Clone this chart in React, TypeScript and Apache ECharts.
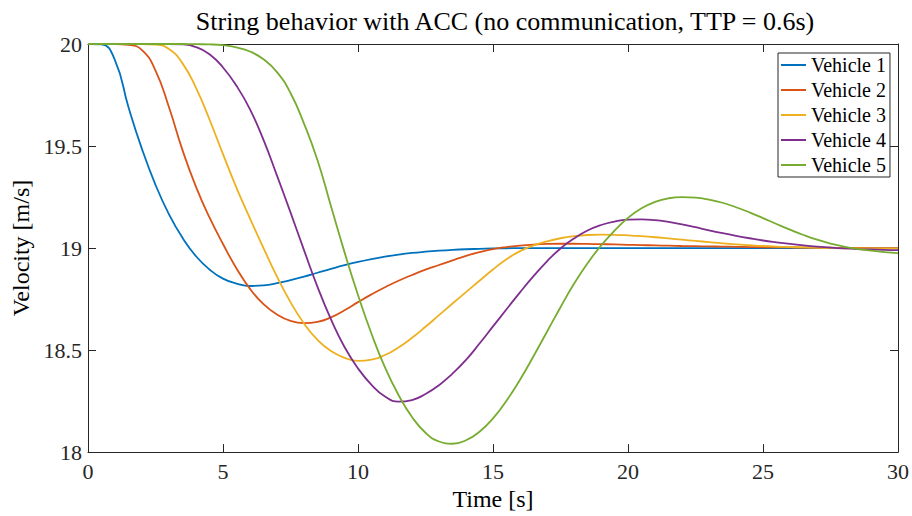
import React, { useEffect, useRef } from "react";
import * as echarts from "echarts";

const times = [
  0, 0.5, 1, 1.5, 2, 2.5, 3, 3.5, 4, 4.5, 5, 5.5, 6, 6.5, 7, 7.5, 8, 8.5, 9, 9.5,
  10, 10.5, 11, 11.5, 12, 12.5, 13, 13.5, 14, 14.5, 15, 15.5, 16, 16.5, 17, 17.5, 18, 18.5, 19, 19.5,
  20, 20.5, 21, 21.5, 22, 22.5, 23, 23.5, 24, 24.5, 25, 25.5, 26, 26.5, 27, 27.5, 28, 28.5, 29, 29.5, 30,
];

const vehicle1 = [
  20, 19.998, 19.92, 19.69, 19.485, 19.31, 19.165, 19.05, 18.96, 18.895, 18.85, 18.826, 18.814, 18.817, 18.828, 18.843, 18.86, 18.879, 18.898, 18.916,
  18.932, 18.946, 18.958, 18.968, 18.976, 18.982, 18.987, 18.991, 18.994, 18.996, 18.998, 18.999, 19, 19, 19, 19, 19, 19, 19, 19,
  19, 19, 19, 19, 19, 19, 19, 19, 19, 19, 19, 19, 19, 19, 19, 19, 19, 19, 19, 19, 19,
];

const vehicle2 = [
  20, 20, 20, 19.996, 19.97, 19.87, 19.69, 19.48, 19.3, 19.15, 19.02, 18.9, 18.8, 18.725, 18.674, 18.643, 18.632, 18.638, 18.66, 18.695,
  18.735, 18.773, 18.808, 18.84, 18.868, 18.894, 18.917, 18.94, 18.962, 18.98, 18.995, 19.005, 19.012, 19.017, 19.02, 19.021, 19.021, 19.02, 19.019, 19.018,
  19.016, 19.0145, 19.013, 19.0115, 19.01, 19.009, 19.008, 19.007, 19.006, 19.005, 19.004, 19.0035, 19.003, 19.0025, 19.002, 19.0015, 19.001, 19.0005, 19, 19, 19,
];

const vehicle3 = [
  20, 20, 20, 20, 20, 19.997, 19.975, 19.905, 19.785, 19.63, 19.46, 19.295, 19.145, 19.0, 18.86, 18.735, 18.63, 18.55, 18.495, 18.462,
  18.447, 18.453, 18.476, 18.513, 18.56, 18.614, 18.671, 18.728, 18.784, 18.84, 18.895, 18.945, 18.985, 19.013, 19.033, 19.048, 19.058, 19.064, 19.066, 19.065,
  19.062, 19.058, 19.053, 19.047, 19.041, 19.035, 19.029, 19.023, 19.018, 19.014, 19.01, 19.007, 19.005, 19.003, 19.001, 19.0, 18.999, 18.998, 18.998, 18.998, 18.998,
];

const vehicle4 = [
  20, 20, 20, 20, 20, 20, 20, 19.998, 19.985, 19.95, 19.885, 19.795, 19.68, 19.53, 19.355, 19.175, 18.99, 18.81, 18.65, 18.515,
  18.41, 18.33, 18.272, 18.247, 18.255, 18.285, 18.328, 18.385, 18.452, 18.532, 18.616, 18.7, 18.783, 18.862, 18.935, 18.998, 19.047, 19.086, 19.113, 19.13,
  19.139, 19.141, 19.137, 19.128, 19.116, 19.102, 19.087, 19.073, 19.06, 19.048, 19.037, 19.028, 19.02, 19.013, 19.007, 19.002, 18.998, 18.995, 18.993, 18.991, 18.99,
];

const vehicle5 = [
  20, 20, 20, 20, 20, 20, 20, 20, 19.999, 19.998, 19.994, 19.983, 19.963, 19.925, 19.862, 19.76, 19.61, 19.43, 19.205, 18.98,
  18.77, 18.58, 18.415, 18.28, 18.172, 18.095, 18.052, 18.041, 18.058, 18.1, 18.165, 18.252, 18.355, 18.47, 18.59, 18.71, 18.825, 18.925, 19.012, 19.085,
  19.148, 19.195, 19.226, 19.244, 19.25, 19.247, 19.237, 19.222, 19.2, 19.175, 19.147, 19.118, 19.09, 19.064, 19.041, 19.022, 19.007, 18.996, 18.987, 18.98, 18.975,
];

const seriesNames = ["Vehicle 1", "Vehicle 2", "Vehicle 3", "Vehicle 4", "Vehicle 5"];
const seriesValues = [vehicle1, vehicle2, vehicle3, vehicle4, vehicle5];
const colors = ["#0072BD", "#D95319", "#EDB120", "#7E2F8E", "#77AC30"];
const xTicks = { min: 0, max: 30, interval: 5 };
const yTicks = { min: 18, max: 20, interval: 0.5 };

const FONT = "Liberation Serif, DejaVu Serif, Times New Roman, serif";
const AXIS_COLOR = "#262626";

export default function App() {
  const ref = useRef<HTMLDivElement>(null);

  useEffect(() => {
    if (!ref.current) return;
    const chart = echarts.init(ref.current, undefined, { renderer: "svg" });

    const axisLine = { show: true, onZero: false, lineStyle: { color: AXIS_COLOR, width: 1 } };
    const axisTick = { show: true, inside: true, length: 8, lineStyle: { color: AXIS_COLOR, width: 1 } };

    chart.setOption({
      animation: false,
      backgroundColor: "#ffffff",
      textStyle: { fontFamily: FONT },
      title: {
        text: "String behavior with ACC (no communication, TTP = 0.6s)",
        left: 500,
        textAlign: "center",
        top: 3,
        textStyle: { fontFamily: FONT, fontSize: 26, fontWeight: "normal", color: "#000" },
      },
      grid: { left: 88, right: 12, top: 44, bottom: 62, containLabel: false },
      legend: {
        orient: "vertical",
        left: 778,
        top: 53,
        backgroundColor: "#ffffff",
        borderColor: AXIS_COLOR,
        borderWidth: 1,
        borderRadius: 0,
        padding: [2, 4, 2, 3],
        icon: "rect",
        itemWidth: 25,
        itemHeight: 2,
        itemGap: 5,
        textStyle: { fontFamily: FONT, fontSize: 20, color: "#000", lineHeight: 20 },
        data: seriesNames,
      },
      xAxis: [
        {
          type: "value",
          position: "bottom",
          ...xTicks,
          axisLine,
          axisTick,
          splitLine: { show: false },
          axisLabel: { margin: 8, fontFamily: FONT, fontSize: 22, color: AXIS_COLOR },
          name: "Time [s]",
          nameLocation: "middle",
          nameGap: 15,
          nameTextStyle: { fontFamily: FONT, fontSize: 24, color: "#000" },
        },
        {
          type: "value",
          position: "top",
          ...xTicks,
          axisLine,
          axisTick,
          splitLine: { show: false },
          axisLabel: { show: false },
        },
      ],
      yAxis: [
        {
          type: "value",
          position: "left",
          ...yTicks,
          axisLine,
          axisTick,
          splitLine: { show: false },
          axisLabel: { margin: 6, fontFamily: FONT, fontSize: 22, color: AXIS_COLOR },
          name: "Velocity [m/s]",
          nameLocation: "middle",
          nameGap: 54,
          nameTextStyle: { fontFamily: FONT, fontSize: 24, color: "#000" },
        },
        {
          type: "value",
          position: "right",
          ...yTicks,
          axisLine,
          axisTick,
          splitLine: { show: false },
          axisLabel: { show: false },
        },
      ],
      series: seriesNames.map((name, i) => ({
        name,
        type: "line",
        xAxisIndex: 0,
        yAxisIndex: 0,
        data: times.map((t, j) => [t, seriesValues[i][j]]),
        smooth: 0.5,
        symbol: "none",
        showSymbol: false,
        lineStyle: { color: colors[i], width: 1.8 },
        itemStyle: { color: colors[i] },
        clip: true,
      })),
    });

    return () => chart.dispose();
  }, []);

  return <div ref={ref} style={{ width: 912, height: 516, position: "absolute", left: 0, top: 0 }} />;
}
